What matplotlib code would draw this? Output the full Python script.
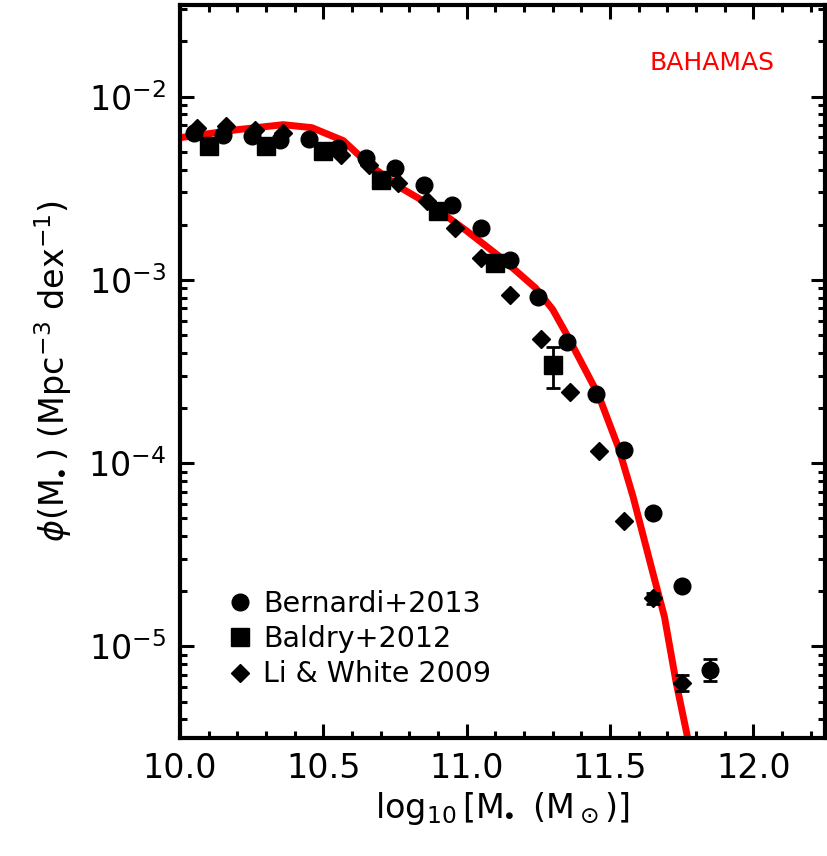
import numpy as np
import matplotlib
matplotlib.use("Agg")
import matplotlib.pyplot as plt

# BAHAMAS stellar mass function (red curve)
model_logm = [10.00, 10.20, 10.36, 10.46, 10.57, 10.66, 10.77, 10.89, 11.00, 11.12,
              11.24, 11.30, 11.35, 11.46, 11.53, 11.58, 11.65, 11.69, 11.73, 11.77, 11.79]
model_phi = [5.97e-3, 6.6e-3, 7.03e-3, 6.77e-3, 5.75e-3, 4.25e-3, 3.18e-3, 2.47e-3,
             1.85e-3, 1.32e-3, 9.04e-4, 6.9e-4, 5.0e-4, 2.35e-4, 1.21e-4, 6.6e-5,
             2.5e-5, 1.45e-5, 6.44e-6, 3.22e-6, 2.0e-6]

# Bernardi+2013
bern_logm = [10.05, 10.15, 10.25, 10.35, 10.45, 10.55, 10.65, 10.75, 10.85, 10.95,
             11.05, 11.15, 11.25, 11.35, 11.45, 11.55, 11.65, 11.75, 11.85]
bern_phi = [6.35e-3, 6.2e-3, 6.12e-3, 5.82e-3, 5.85e-3, 5.26e-3, 4.64e-3, 4.09e-3,
            3.30e-3, 2.57e-3, 1.92e-3, 1.29e-3, 8.07e-4, 4.58e-4, 2.38e-4, 1.18e-4,
            5.33e-5, 2.13e-5, 7.4e-6]
bern_err_lo = [0] * 18 + [0.95e-6]
bern_err_hi = [0] * 18 + [1.1e-6]

# Baldry+2012
bald_logm = [10.1, 10.3, 10.5, 10.7, 10.9, 11.1, 11.3]
bald_phi = [5.40e-3, 5.40e-3, 5.07e-3, 3.52e-3, 2.38e-3, 1.24e-3, 3.44e-4]
bald_err_lo = [0, 0, 0, 0, 0, 0, 0.87e-4]
bald_err_hi = [0, 0, 0, 0, 0, 0, 0.87e-4]

# Li & White 2009
li_logm = [10.06, 10.16, 10.26, 10.36, 10.56, 10.66, 10.76, 10.86, 10.96, 11.05,
           11.15, 11.26, 11.36, 11.46, 11.55, 11.65, 11.75]
li_phi = [6.78e-3, 6.95e-3, 6.61e-3, 6.35e-3, 4.82e-3, 4.25e-3, 3.39e-3, 2.70e-3,
          1.92e-3, 1.32e-3, 8.28e-4, 4.77e-4, 2.44e-4, 1.16e-4, 4.82e-5, 1.83e-5,
          6.28e-6]
li_err_lo = [0] * 15 + [1.2e-6, 0.6e-6]
li_err_hi = [0] * 15 + [1.2e-6, 0.67e-6]

plt.rcParams["font.family"] = ["DejaVu Sans"]
plt.rcParams["mathtext.fontset"] = "dejavusans"

fig = plt.figure(figsize=(8.27, 8.56), dpi=100)
ax = fig.add_axes([180 / 827, 118 / 856, 645 / 827, 733 / 856])

ax.plot(model_logm, model_phi, color="red", lw=5, solid_joinstyle="round", zorder=2)

# error bars first, markers on top
for xs, ys, lo, hi in [(bern_logm, bern_phi, bern_err_lo, bern_err_hi),
                       (bald_logm, bald_phi, bald_err_lo, bald_err_hi),
                       (li_logm, li_phi, li_err_lo, li_err_hi)]:
    ax.errorbar(xs, ys, yerr=[lo, hi], fmt="none", ecolor="black",
                elinewidth=2, capsize=5, capthick=2, zorder=3)

h1, = ax.plot(bern_logm, bern_phi, "o", color="black", ms=12, ls="none",
              label="Bernardi+2013", zorder=4)
h2, = ax.plot(bald_logm, bald_phi, "s", color="black", ms=12.5, ls="none",
              label="Baldry+2012", zorder=4)
h3, = ax.plot(li_logm, li_phi, "D", color="black", ms=9, ls="none",
              label="Li & White 2009", zorder=4)

ax.set_yscale("log")
ax.set_xlim(10.0, 12.25)
ax.set_ylim(10 ** -5.5, 10 ** -1.5)
ax.set_xticks([10.0, 10.5, 11.0, 11.5, 12.0])
ax.set_xticklabels(["10.0", "10.5", "11.0", "11.5", "12.0"])
ax.set_xticks(np.arange(10.0, 12.26, 0.1), minor=True)
ax.set_yticks([1e-5, 1e-4, 1e-3, 1e-2])
ax.set_yticklabels([r"10$^{-5}$", r"10$^{-4}$", r"10$^{-3}$", r"10$^{-2}$"])

ax.tick_params(which="both", direction="in", top=True, right=True,
               labelsize=24, width=2.2, color="black")
ax.tick_params(which="major", length=10, pad=10)
ax.tick_params(which="minor", length=5)
for s in ax.spines.values():
    s.set_linewidth(3)

ax.set_xlabel(r"$\log_{10}[\mathrm{M}_{\!\!\bullet}\ (\mathrm{M}_\odot)]$", fontsize=24, labelpad=4)
ax.set_ylabel(r"$\phi(\mathrm{M}_{\!\!\bullet})$ (Mpc$^{-3}$ dex$^{-1}$)", fontsize=24, labelpad=10)

fig.text(775 / 827, 1 - 63 / 856, "BAHAMAS", color="red", fontsize=18,
         ha="right", va="center")

ax.legend(handles=[h1, h2, h3], loc="lower left", bbox_to_anchor=(0.056, 0.052),
          frameon=False, fontsize=20.5, numpoints=1, handlelength=0.9,
          handletextpad=0.35, labelspacing=0.25, borderaxespad=0)

fig.savefig("out.png", dpi=100)
